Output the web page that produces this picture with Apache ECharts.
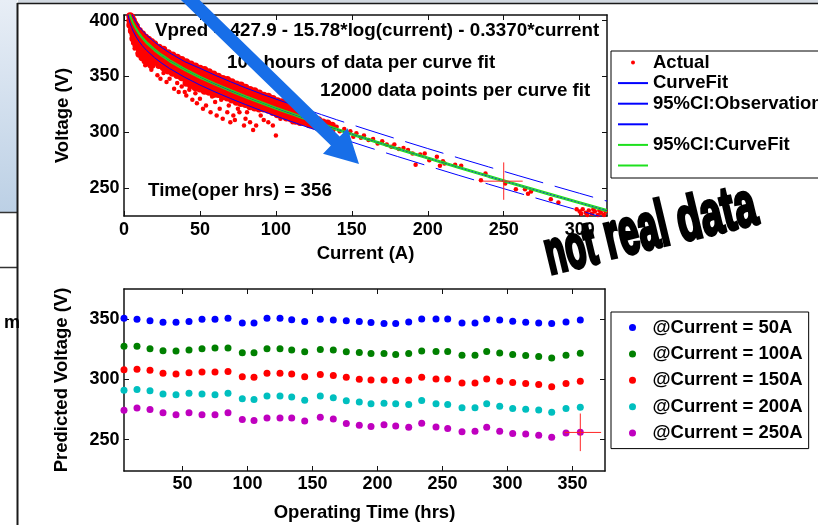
<!DOCTYPE html>
<html>
<head>
<meta charset="utf-8">
<script src="https://cdn.jsdelivr.net/npm/echarts@6/dist/echarts.min.js"></script>
<style>
html,body{margin:0;padding:0;background:#fff;}
#c{width:818px;height:525px;}
</style>
</head>
<body>
<div id="c"></div>
<script>
const FONT = '"Liberation Sans", Arial, Helvetica, sans-serif';

// ---------- Top panel: Voltage vs Current ----------
const topXTicks = [0, 50, 100, 150, 200, 250, 300];
const topYTicks = [250, 300, 350, 400];

const actualBand = [
  [4,404],[4,400],[4,396],
  [5,403],[5,399],[5,395],[5,391],
  [6,400],[6,396],[6,392],[6,388],[6,384],
  [7,397],[7,393],[7,389],[7,385],[7,381],
  [8,395],[8,391],[8,387],[8,383],[8,378],
  [10,391],[10,387],[10,383],[10,379],[10,375],[10,370],
  [12,388],[12,384],[12,380],[12,376],[12,372],[12,367],
  [14,385],[14,381],[14,377],[14,373],[14,369],[14,364],
  [16,383],[16,379],[16,375],[16,371],[16,367],[16,362],
  [18,381],[18,377],[18,373],[18,369],[18,365],[18,360],
  [20,379],[20,375],[20,371],[20,367],[20,363],
  [23,376],[23,372],[23,368],[23,364],[23,360],
  [26,374],[26,370],[26,366],[26,362],[26,358],
  [29,371],[29,367],[29,363],[29,359],[29,355],
  [32,369],[32,365],[32,361],[32,357],[32,353],
  [35,367],[35,363],[35,359],[35,355],[35,351],
  [38,365],[38,361],[38,357],[38,353],[38,349],
  [41,363],[41,359],[41,355],[41,351],[41,347],[41,344],
  [44,361],[44,357],[44,353],[44,349],[44,345],[44,342],
  [47,359],[47,355],[47,351],[47,347],[47,343],[47,340],
  [50,357],[50,353],[50,349],[50,345],[50,341],[50,339],
  [53,356],[53,352],[53,348],[53,344],[53,340],[53,337],
  [56,354],[56,350],[56,346],[56,342],[56,338],[56,336],
  [59,352],[59,348],[59,344],[59,340],[59,336],[59,334],
  [62,350],[62,346],[62,342],[62,338],[62,334],
  [65,348],[65,344],[65,340],[65,336],[65,332],
  [68,347],[68,343],[68,339],[68,335],[68,331],
  [71,345],[71,341],[71,337],[71,333],[71,329],
  [74,343],[74,339],[74,335],[74,331],[74,327],
  [77,342],[77,338],[77,334],[77,330],[77,326],
  [80,340],[80,336],[80,332],[80,328],[80,325],
  [83,338],[83,334],[83,330],[83,326],[83,323],
  [86,337],[86,333],[86,329],[86,325],[86,322],
  [89,335],[89,331],[89,327],[89,323],[89,321],
  [92,333],[92,329],[92,325],[92,321],
  [95,332],[95,328],[95,324],[95,320],
  [98,330],[98,326],[98,322],[98,318],
  [101,328],[101,324],[101,320],[101,316],
  [104,327],[104,323],[104,319],[104,315],
  [107,325],[107,321],[107,317],[107,313],
  [110,323],[110,319],[110,315],[110,312],
  [113,321],[113,317],[113,313],[113,310],
  [116,319],[116,315],[116,311],[116,309],
  [119,317],[119,313],[119,309],
  [122,315],[122,311],[122,307],
  [125,313],[125,309],[125,306],
  [128,311],[128,307],[128,304],
  [131,309],[131,306],[134,308],[134,304],[137,306],[137,303]
];
// ... and the sparser points and outliers
const actualSparse = [
  [140,305],[142,301],[145,303],[147,299],[149,301],[151,296],[153,299],[156,295],
  [158,297],[161,293],[164,294],[167,290],[170,292],[173,289],[176,287],[178,289],[181,285],
  [184,286],[187,284],[190,281],[192,271],[195,280],[198,281],[201,275],[206,278],
  [208,270],[210,274],[211,272],[218,271],[222,270],[235,257],[238,263],[251,254],
  [258,249],[264,249],[266,245],[268,247],[281,240],[286,237],
  [298,231],[300,229],[301,227],[302,231],[304,228],[305,226],[306,230],[308,227],
  [309,231],[310,229],[312,226],[313,230],[314,228],[316,226],[317,229],
  [6,380],[7,375],[9,371],[13,366],[14,360],[16,363],[18,356],[19,359],[22,351],
  [24,348],[26,353],[28,345],[30,348],[33,339],[35,344],[36,336],[38,341],[40,336],
  [41,333],[43,338],[45,329],[47,335],[48,326],[49,339],[50,330],[52,321],[54,324],
  [57,318],[58,332],[60,327],[61,315],[61,336],[63,321],[64,329],[65,312],[68,318],
  [69,324],[70,309],[72,315],[73,311],[75,321],[76,318],[79,306],[80,312],[81,318],
  [83,309],[85,302],[87,306],[90,315],[92,311],[95,309],[98,306],[100,297],[103,312],[111,309]
];

// Curve fit and its 95% CI (curve fit) lines
const fitCurrent = [3.5,4,5,6,8,10,12,15,20,25,30,40,50,60,70,80,90,100,110,120,130,140,150,160,180,200,220,240,260,280,300,318];
const fitVoltage = [406.9,404.7,400.8,397.6,392.4,388.2,384.6,380.1,373.9,368.7,364.1,356.2,349.3,343.1,337.3,331.8,326.6,321.5,316.7,311.9,307.3,302.7,298.3,293.9,285.3,276.9,268.6,260.5,252.5,244.6,236.8,229.8];
const ciFitUpper = [407.7,405.5,401.6,398.4,393.2,389.0,385.4,380.9,374.7,369.5,364.9,357.0,350.1,343.9,338.1,332.6,327.4,322.3,317.5,312.7,308.1,303.5,299.1,294.7,286.1,277.7,269.4,261.3,253.3,245.4,237.6,230.6];
const ciFitLower = [406.1,403.9,400.0,396.8,391.6,387.4,383.8,379.3,373.1,367.9,363.3,355.4,348.5,342.3,336.5,331.0,325.8,320.7,315.9,311.1,306.5,301.9,297.5,293.1,284.5,276.1,267.8,259.7,251.7,243.8,236.0,229.0];

// 95% CI observation lines (solid part, then dashed part)
const obsCurrentSolid = [2.5,4,5,6,8,10,12,15,20,25,30,40,50,60,70,80,90,100,110,120];
const obsUpperSolid = [418.6,410.7,406.8,403.6,398.6,394.5,391.1,386.8,380.9,375.7,371.1,363.2,357.3,351.1,345.3,339.8,334.6,329.7,325.0,320.4];
const obsLowerSolid = [405.6,397.7,393.8,390.6,385.4,381.2,377.6,373.1,366.9,361.7,357.1,349.2,342.3,336.1,330.3,324.8,319.6,314.5,309.7,304.9];
const obsCurrentDash = [120,130,140,150,160,180,200,220,240,260,280,300,318];
const obsUpperDash = [320.4,315.8,311.2,306.8,302.4,293.8,285.4,277.1,269.0,261.0,253.1,245.3,238.3];
const obsLowerDash = [304.9,300.3,295.7,291.3,286.9,278.3,269.9,261.6,253.5,245.5,237.6,229.8,222.8];

// Red cross marker (current = 250 A)
const crossTopH = [[235.5,256.2],[262.5,256.2]];
const crossTopV = [[250,273.0],[250,239.5]];

// ---------- Bottom panel: Predicted voltage vs operating time ----------
const bottomXTicks = [50, 100, 150, 200, 250, 300, 350];
const bottomYTicks = [250, 300, 350];
const operatingHours = [5,15,25,35,45,55,65,75,85,96,105,115,125,134,144,156,166,176,186,195,205,214,224,234,245,254,265,275,284,294,304,314,324,334,345,356];
const vAt50A  = [350.8,350.0,348.7,347.5,347.5,348.1,350.0,350.0,350.8,346.7,346.7,350.8,350.8,349.5,348.1,350.0,349.2,348.7,348.1,347.2,346.4,346.4,347.7,350.2,350.2,350.2,346.8,346.8,350.2,349.3,348.3,347.4,346.8,346.4,347.7,349.3];
const vAt100A = [327.6,327.4,325.5,323.8,323.5,324.3,325.5,326.0,326.0,322.1,322.1,325.5,325.5,324.3,323.0,324.9,324.3,323.0,322.4,321.5,321.5,320.6,321.5,323.6,323.1,323.1,320.1,320.1,323.1,322.0,320.6,319.8,319.0,317.8,320.1,321.7];
const vAt150A = [308.0,308.5,307.5,305.0,304.4,305.6,306.1,306.1,306.6,302.2,301.7,305.0,305.0,304.4,302.2,304.1,303.3,301.7,300.2,299.6,299.6,299.1,299.3,301.8,300.4,300.4,297.1,297.1,300.4,298.5,297.4,296.6,295.8,293.8,296.6,298.5];
const vAt200A = [290.9,291.7,290.6,287.8,287.3,288.6,287.8,287.3,288.6,284.0,283.4,286.2,286.2,285.3,282.8,286.2,284.8,282.3,281.2,279.7,280.3,279.7,279.2,282.5,279.7,279.2,276.4,276.4,279.7,277.8,275.9,275.3,274.7,272.8,275.9,276.9];
const vAt250A = [274.5,276.2,275.1,272.4,270.7,272.4,270.7,270.7,272.4,266.8,266.0,267.9,267.9,267.9,265.4,268.5,267.1,263.5,261.9,260.9,262.3,261.4,260.4,263.7,260.6,259.3,256.5,257.0,260.4,257.0,255.1,254.6,253.7,252.1,255.6,256.2];
const bottomNames = ['@Current = 50A','@Current = 100A','@Current = 150A','@Current = 200A','@Current = 250A'];
const crossBottomH = [[344,256.0],[372,256.0]];
const crossBottomV = [[356,271.7],[356,240.5]];

// ---------- Build ----------
function pairs(xs, ys) { return xs.map((x, i) => [x, ys[i]]); }

const labelText = { color: '#000', fontSize: 18, fontWeight: 'bold', fontFamily: FONT };
const nameText = { color: '#000', fontSize: 18.5, fontWeight: 'bold', fontFamily: FONT };

function axis(gridIndex, min, max, ticks, position, main, name, nameGap, margin) {
  return {
    type: 'value', gridIndex, min, max, position,
    axisLine: { show: true, onZero: false, lineStyle: { color: '#111', width: 1.5 } },
    axisTick: { show: true, inside: true, length: 5, customValues: ticks, lineStyle: { color: '#111', width: 1 } },
    axisLabel: main ? Object.assign({ show: true, customValues: ticks, margin }, labelText) : { show: false },
    splitLine: { show: false },
    name: main ? name : '',
    nameLocation: 'middle',
    nameGap: nameGap || 0,
    nameTextStyle: nameText
  };
}

const blue = '#0000ff', green = '#1ee01e', crossRed = '#ff2424';
function lineSeries(name, data, color, xi, extra) {
  return Object.assign({
    type: 'line', name, data, xAxisIndex: xi, yAxisIndex: xi,
    symbol: 'none', silent: true,
    lineStyle: { color, width: 1 }, itemStyle: { color, opacity: 0 }
  }, extra || {});
}

const bottomValues = [vAt50A, vAt100A, vAt150A, vAt200A, vAt250A];
const bottomColors = ['#0000ff', '#008000', '#ff0000', '#00bfbf', '#bf00bf'];

const series = [
  { type: 'scatter', name: 'Actual', data: actualSparse, xAxisIndex: 0, yAxisIndex: 0,
    symbol: 'circle', symbolSize: 4.5, itemStyle: { color: '#ff0000', opacity: 1 }, silent: true },
  { type: 'scatter', name: 'Actual', data: actualBand, xAxisIndex: 0, yAxisIndex: 0,
    symbol: 'circle', symbolSize: 7.5, itemStyle: { color: '#ff0000', opacity: 1 }, silent: true },
  lineSeries('CurveFit', pairs(fitCurrent, fitVoltage), blue, 0),
  lineSeries('95%CI:Observation', pairs(obsCurrentSolid, obsUpperSolid), blue, 0),
  lineSeries('95%CI:Observation', pairs(obsCurrentDash, obsUpperDash), blue, 0,
    { lineStyle: { color: blue, width: 1, type: [40, 12] } }),
  lineSeries(' ', pairs(obsCurrentSolid, obsLowerSolid), blue, 0),
  lineSeries(' ', pairs(obsCurrentDash, obsLowerDash), blue, 0,
    { lineStyle: { color: blue, width: 1, type: [40, 12], dashOffset: 20 } }),
  lineSeries('95%CI:CurveFit', pairs(fitCurrent, ciFitUpper), green, 0, { lineStyle: { color: green, width: 1.3 } }),
  lineSeries('  ', pairs(fitCurrent, ciFitLower), green, 0, { lineStyle: { color: green, width: 1.3 } }),
  lineSeries('crossTopH', crossTopH, crossRed, 0),
  lineSeries('crossTopV', crossTopV, crossRed, 0)
];
bottomNames.forEach((n, i) => {
  series.push({
    type: 'scatter', name: n, data: pairs(operatingHours, bottomValues[i]),
    xAxisIndex: 2, yAxisIndex: 2, symbol: 'circle', symbolSize: 7,
    itemStyle: { color: bottomColors[i], opacity: 1 }, silent: true
  });
});
series.push(lineSeries('crossBottomH', crossBottomH, crossRed, 2));
series.push(lineSeries('crossBottomV', crossBottomV, crossRed, 2));

const legendText = { color: '#000', fontSize: 18.5, fontWeight: 'bold', fontFamily: FONT, lineHeight: 18 };
const noDot = { opacity: 0 };

// arrow geometry (decoration)
const arrowPts = [[184.6,-14.6],[339.7,136.5],[347.6,128.3],[359,164],[323.0,153.7],[330.9,145.5],[175.2,-5.6]];
const plotFont = 'bold 18.8px ' + FONT;

const option = {
  animation: false,
  backgroundColor: '#ffffff',
  grid: [
    { left: 124, top: 15, width: 483, height: 201, outerBoundsMode: 'none', containLabel: false },
    { left: 124, top: 289, width: 481, height: 182, outerBoundsMode: 'none', containLabel: false }
  ],
  xAxis: [
    axis(0, 0, 318, topXTicks, 'bottom', true, 'Current (A)', 28.5, 5),
    axis(0, 0, 318, topXTicks, 'top', false),
    axis(1, 5, 375, bottomXTicks, 'bottom', true, 'Operating Time (hrs)', 32, 4),
    axis(1, 5, 375, bottomXTicks, 'top', false)
  ],
  yAxis: [
    axis(0, 225, 405, topYTicks, 'left', true, 'Voltage (V)', 52, 4.5),
    axis(0, 225, 405, topYTicks, 'right', false),
    axis(1, 224, 375, bottomYTicks, 'left', true, 'Predicted Voltage (V)', 53, 4.5),
    axis(1, 224, 375, bottomYTicks, 'right', false)
  ],
  legend: [
    {
      data: [
        { name: 'Actual' },
        { name: 'CurveFit', itemStyle: noDot },
        { name: '95%CI:Observation', itemStyle: noDot },
        { name: ' ', itemStyle: noDot },
        { name: '95%CI:CurveFit', itemStyle: noDot },
        { name: '  ', itemStyle: noDot }
      ],
      orient: 'vertical', left: 611, top: 51, padding: [2, 6, 3, 6],
      itemWidth: 30, itemHeight: 4, itemGap: 1.6,
      borderColor: '#000', borderWidth: 1, backgroundColor: '#fff',
      selectedMode: false, textStyle: legendText
    },
    {
      data: bottomNames,
      orient: 'vertical', left: 611, top: 312, padding: [6, 6, 6, 18],
      itemWidth: 30, itemHeight: 7, itemGap: 7.4,
      borderColor: '#000', borderWidth: 1, backgroundColor: '#fff',
      selectedMode: false, textStyle: legendText
    }
  ],
  series,
  graphic: [
    { type: 'rect', z: 50, shape: { x: 18, y: 0, width: 800, height: 3 }, style: { fill: '#d2d9e1' } },
    { type: 'rect', z: 50, shape: { x: 0, y: 0, width: 17, height: 212 },
      style: { fill: new echarts.graphic.LinearGradient(0, 0, 0, 1, [
        { offset: 0, color: '#e8eef6' }, { offset: 1, color: '#bcd0e5' }]) } },
    { type: 'line', z: 51, shape: { x1: 0, y1: 212.5, x2: 17, y2: 212.5 }, style: { stroke: '#333', lineWidth: 1.5 } },
    { type: 'line', z: 51, shape: { x1: 0, y1: 267.5, x2: 17, y2: 267.5 }, style: { stroke: '#333', lineWidth: 1.5 } },
    { type: 'line', z: 52, shape: { x1: 17.5, y1: 3, x2: 17.5, y2: 525 }, style: { stroke: '#1a1a1a', lineWidth: 2 } },
    { type: 'line', z: 52, shape: { x1: 17, y1: 3.5, x2: 818, y2: 3.5 }, style: { stroke: '#1a1a1a', lineWidth: 1.5 } },
    { type: 'text', z: 52, x: 4, y: 323, style: { text: 'm', fill: '#000', font: 'bold 18px ' + FONT, verticalAlign: 'middle' } },

    { type: 'text', z: 60, x: 155, y: 31, style: { text: 'Vpred = 427.9 - 15.78*log(current) - 0.3370*current', fill: '#000', font: plotFont, verticalAlign: 'middle' } },
    { type: 'text', z: 60, x: 227, y: 62.5, style: { text: '100 hours of data per curve fit', fill: '#000', font: plotFont, verticalAlign: 'middle' } },
    { type: 'text', z: 60, x: 320, y: 90.5, style: { text: '12000 data points per curve fit', fill: '#000', font: plotFont, verticalAlign: 'middle' } },
    { type: 'text', z: 60, x: 148, y: 190.5, style: { text: 'Time(oper hrs) = 356', fill: '#000', font: plotFont, verticalAlign: 'middle' } },

    { type: 'polygon', z: 100, shape: { points: arrowPts }, style: { fill: '#176ee8' } },

    { type: 'text', z: 110, x: 553.3, y: 287.4, rotation: 0.235, scaleY: 1.85,
      style: { text: 'not', fill: '#000', stroke: '#000', lineWidth: 2.2, font: 'bold 33px ' + FONT, align: 'left', verticalAlign: 'bottom' } },
    { type: 'text', z: 110, x: 613, y: 272.6, rotation: 0.235, scaleY: 1.8,
      style: { text: 'real', fill: '#000', stroke: '#000', lineWidth: 2.2, font: 'bold 36px ' + FONT, align: 'left', verticalAlign: 'bottom' } },
    { type: 'text', z: 110, x: 685, y: 255.3, rotation: 0.235, scaleY: 1.6,
      style: { text: 'data', fill: '#000', stroke: '#000', lineWidth: 2.2, font: 'bold 39px ' + FONT, align: 'left', verticalAlign: 'bottom' } }
  ]
};

const chart = echarts.init(document.getElementById('c'));
chart.setOption(option);
</script>
</body>
</html>
